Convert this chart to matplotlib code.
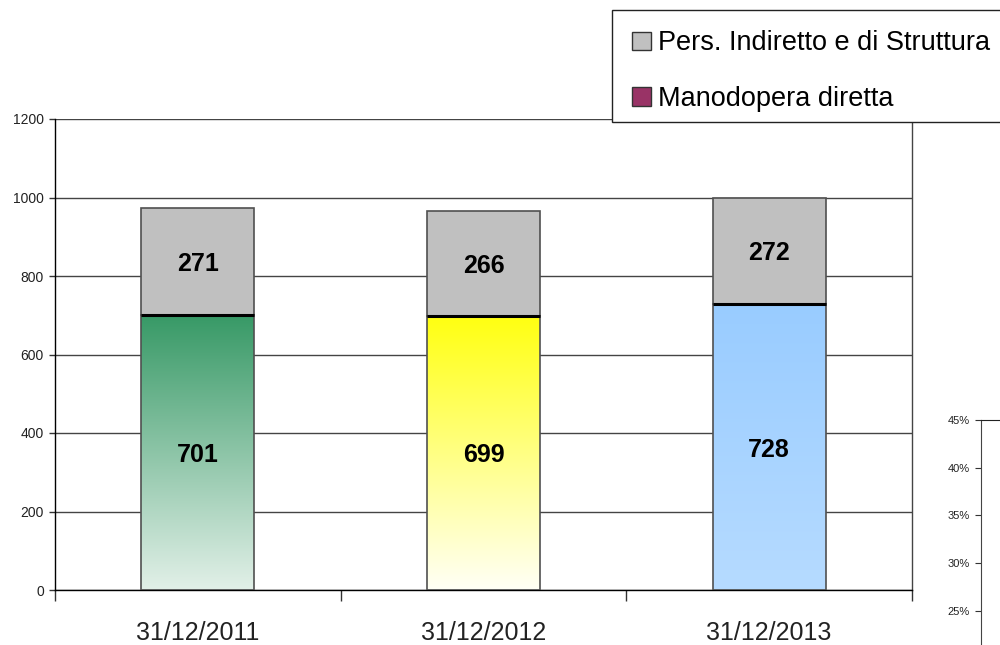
import matplotlib
matplotlib.use("Agg")
import matplotlib.pyplot as plt
import numpy as np
from matplotlib.patches import Patch, Rectangle
from matplotlib.colors import LinearSegmentedColormap

plt.rcParams['font.family'] = ['Liberation Sans', 'DejaVu Sans']

categories = ["31/12/2011", "31/12/2012", "31/12/2013"]
manodopera = [701, 699, 728]
indiretto = [271, 266, 272]
legend_labels = ["Pers. Indiretto e di Struttura", "Manodopera diretta"]
pct_ticks = [0.25, 0.30, 0.35, 0.40, 0.45]

grad_top = ["#379966", "#FFFF10", "#99CCFF"]
grad_bottom = ["#E2F0E8", "#FFFFF6", "#B6DBFF"]
grey = "#C0C0C0"
legend_colors = [grey, "#993366"]

fig = plt.figure(figsize=(10, 6.45), dpi=100)
ax = fig.add_axes([0.055, 1 - 590 / 645, 0.857, 471 / 645])
ax.set_zorder(1)

x = np.arange(len(categories))
w = 0.395
bars_bot = ax.bar(x, manodopera, width=w, color="none", edgecolor="#505050", linewidth=1.2, zorder=3)
bars_top = ax.bar(x, indiretto, bottom=manodopera, width=w, color=grey, edgecolor="#505050", linewidth=1.2, zorder=3)

for i, b in enumerate(bars_bot):
    cmap = LinearSegmentedColormap.from_list("g%d" % i, [grad_bottom[i], grad_top[i]])
    grad = np.linspace(0, 1, 256).reshape(-1, 1)
    im = ax.imshow(grad, cmap=cmap, aspect="auto", origin="lower",
                   extent=[b.get_x(), b.get_x() + b.get_width(), 0, b.get_height()], zorder=2)
    im.set_clip_path(b)
    ax.plot([b.get_x(), b.get_x() + b.get_width()], [b.get_height(), b.get_height()],
            color="black", linewidth=2.2, zorder=4, solid_capstyle="butt")

for i in range(len(categories)):
    ax.text(x[i], manodopera[i] / 2, str(manodopera[i]), ha="center", va="center_baseline",
            fontsize=18, fontweight="bold", zorder=5)
    ax.text(x[i], manodopera[i] + indiretto[i] / 2, str(indiretto[i]), ha="center", va="center_baseline",
            fontsize=18, fontweight="bold", zorder=5)

ax.set_xlim(-0.5, 2.5)
ax.set_ylim(0, 1200)
ax.set_yticks(range(0, 1201, 200))
ax.yaxis.grid(True, color="#444444", linewidth=1.0, zorder=0)
ax.set_axisbelow(True)
ax.tick_params(axis="y", labelsize=10, labelcolor="#222222", length=4, width=1, color="#333333", pad=4)
ax.set_xticks(x)
ax.set_xticklabels(categories, fontsize=18, color="#222222")
ax.set_xticks([-0.5, 0.5, 1.5, 2.5], minor=True)
ax.tick_params(axis="x", which="major", length=0, pad=22)
ax.tick_params(axis="x", which="minor", length=8, width=1, color="#333333")
ax.spines["top"].set_visible(False)
ax.spines["right"].set_color("#444444")
ax.spines["left"].set_color("black")
ax.spines["bottom"].set_color("black")
for s in ax.spines.values():
    s.set_linewidth(1.0)

# secondary partial axis at right bottom
ax2 = fig.add_axes([981 / 1000, 1 - 658.5 / 645, 0.05, 238.5 / 645])
ax2.set_zorder(1)
ax2.set_ylim(0.20, 0.45)
ax2.set_yticks(pct_ticks)
ax2.set_yticklabels(["%d%%" % round(t * 100) for t in pct_ticks])
ax2.set_xticks([])
ax2.tick_params(axis="y", labelsize=8, labelcolor="#222222", length=4, color="#333333", pad=4)
ax2.spines["right"].set_visible(False)
ax2.spines["bottom"].set_visible(False)
ax2.spines["top"].set_color("#222222")
ax2.spines["left"].set_color("#444444")
ax2.patch.set_alpha(0)

# legend frame
frame = Rectangle((612 / 1000, 1 - 122 / 645), 400 / 1000, 112 / 645, transform=fig.transFigure,
                  facecolor="white", edgecolor="#222222", linewidth=1.0, zorder=5)
fig.add_artist(frame)

handles = [Patch(facecolor=legend_colors[0], edgecolor="#333333"),
           Patch(facecolor=legend_colors[1], edgecolor="#333333")]
leg = fig.legend(handles, legend_labels, loc="upper left",
                 bbox_to_anchor=(612 / 1000, 1 - 10 / 645), fontsize=19.5,
                 frameon=False,
                 handlelength=0.68, handleheight=0.68, handletextpad=0.25,
                 labelspacing=1.1, borderpad=0.75, borderaxespad=0)
leg.set_zorder(6)

fig.savefig("out.png", dpi=100)
